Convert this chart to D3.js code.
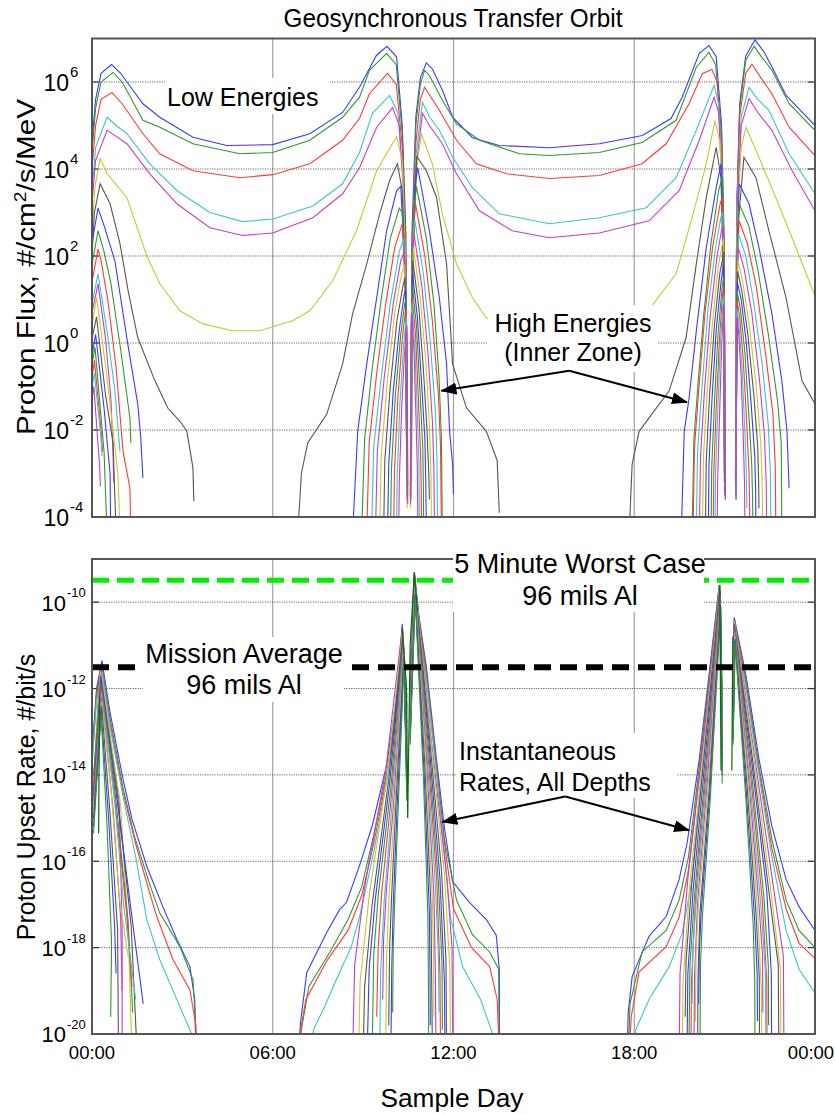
<!DOCTYPE html>
<html><head><meta charset="utf-8">
<script src="https://cdn.jsdelivr.net/npm/d3@7/dist/d3.min.js"></script>
<style>body{margin:0;background:#fff;} text{font-family:"Liberation Sans",Arial,sans-serif;fill:#000;}</style>
</head><body><svg id="c" width="835" height="1115"></svg>
<script>
// ---------------- DATA (hour of day, log10 value) ----------------
const xTickHours = [0, 6, 12, 18, 24];
const xTickLabels = ["00:00", "06:00", "12:00", "18:00", "00:00"];
const fluxTickExps = [6, 4, 2, 0, -2, -4];
const rateTickExps = [-10, -12, -14, -16, -18, -20];
const fluxGridExps = [6, 4, 2, 0, -2];
const rateGridExps = [-10, -12, -14, -16, -18];

const palette = ["#3a3aff", "#2e9a2e", "#ff3a3a", "#3cc6c6", "#c83cc8", "#c8c832", "#555555"];
const fluxLowColors = [0, 1, 2, 3, 4, 5, 6];
const fluxHighColors = [0, 1, 2, 3, 4, 5, 6, 0, 1, 2, 3, 4];
const rateWideColors = [0, 1, 2, 3];
const rateNarrowColors = [4, 5, 6, 0, 1, 2, 3, 4, 5, 6, 0, 1];

// Low energy proton flux channels (full orbit)
const fluxLow = [
 [[0,4.6],[0.12,5.6],[0.3,6.2],[0.65,6.4],[0.95,6.2],[1.16,6.0],[1.69,5.5],[2.25,5.19],[3.35,4.73],[4.47,4.54],[6.0,4.56],[7.23,4.81],[8.32,5.3],[8.88,5.88],[9.44,6.61],[9.79,6.82],[10.11,6.58],[10.3,5.0],[10.42,2.5],[10.46,-3.2],null,
  [10.58,-3.0],[10.62,2.5],[10.75,5.2],[10.9,6.1],[11.1,6.44],[11.3,6.3],[11.64,5.8],[11.97,5.19],[12.63,4.72],[13.52,4.54],[15.18,4.49],[16.84,4.58],[18.27,4.77],[19.22,5.16],[19.59,5.65],[20.16,6.66],[20.48,6.84],[20.72,6.58],[20.9,5.0],[20.98,2.5],[21.0,-3.0],null,
  [21.36,-3.0],[21.4,3.0],[21.5,5.5],[21.7,6.6],[22.01,6.97],[22.3,6.7],[22.57,6.35],[23.04,5.69],[24,5.0]],
 [[0,4.4],[0.12,5.4],[0.3,6.0],[0.7,6.22],[1.0,6.0],[1.69,5.12],[2.25,4.96],[3.35,4.58],[4.91,4.35],[6.0,4.38],[7.23,4.66],[8.32,5.19],[8.88,5.65],[9.21,6.27],[9.78,6.66],[10.1,6.4],[10.3,4.8],[10.42,2.0],[10.46,-3.4],null,
  [10.58,-3.2],[10.62,2.0],[10.75,5.0],[10.9,5.95],[11.04,6.27],[11.2,6.15],[11.63,5.58],[12.1,5.04],[12.86,4.66],[14.19,4.35],[15.18,4.31],[16.84,4.38],[18.26,4.61],[19.39,5.12],[20.06,6.34],[20.48,6.68],[20.7,6.4],[20.9,4.8],[20.98,2.2],[21.0,-3.2],null,
  [21.36,-3.2],[21.4,3.0],[21.5,5.4],[21.7,6.5],[21.98,6.82],[22.2,6.6],[22.57,6.27],[23.14,5.5],[24,4.89]],
 [[0,4.0],[0.12,5.0],[0.3,5.6],[0.66,5.76],[1.0,5.5],[1.69,4.81],[2.25,4.35],[3.35,3.96],[4.91,3.8],[6.0,3.87],[7.23,4.12],[8.32,4.66],[8.88,5.16],[9.21,5.73],[9.81,6.2],[10.1,5.95],[10.3,4.5],[10.42,1.8],[10.46,-3.0],null,
  [10.58,-3.1],[10.62,1.8],[10.75,4.6],[10.9,5.6],[11.04,5.88],[11.53,5.35],[12.1,4.66],[12.76,4.12],[13.76,3.89],[15.18,3.78],[16.84,3.85],[18.26,4.12],[19.06,4.58],[19.82,5.5],[20.26,6.19],[20.58,6.29],[20.75,6.0],[20.9,4.5],[20.98,2.0],[21.0,-3.0],null,
  [21.36,-3.0],[21.4,3.0],[21.5,5.2],[21.7,6.2],[21.91,6.41],[22.2,6.1],[22.57,5.73],[23.14,4.96],[24,4.31]],
 [[0,3.5],[0.12,4.5],[0.5,5.19],[0.8,5.0],[1.16,4.81],[1.92,4.12],[2.82,3.5],[3.91,3.0],[5.0,2.79],[6.0,2.85],[7.33,3.15],[8.32,3.66],[8.88,4.38],[9.31,5.28],[9.88,5.69],[10.15,5.3],[10.32,3.8],[10.42,1.5],[10.46,-3.3],null,
  [10.58,-2.9],[10.62,1.5],[10.75,4.3],[10.97,5.53],[11.2,5.2],[11.53,4.89],[11.97,4.27],[12.63,3.57],[13.52,2.97],[15.18,2.74],[16.84,2.88],[18.4,3.11],[19.39,3.8],[20.06,4.89],[20.65,5.92],[20.8,5.5],[20.92,3.8],[20.98,1.5],[21.0,-3.1],null,
  [21.36,-3.1],[21.4,3.0],[21.55,5.2],[21.81,5.88],[22.1,5.6],[22.47,5.35],[23.14,4.35],[24,3.43]],
 [[0,3.2],[0.12,4.2],[0.5,4.89],[0.8,4.75],[1.16,4.58],[1.92,3.89],[2.82,3.2],[3.91,2.65],[5.0,2.47],[6.0,2.53],[7.33,2.88],[8.32,3.43],[8.88,4.03],[9.45,4.96],[9.98,5.41],[10.2,5.0],[10.34,3.5],[10.42,1.2],[10.46,-3.5],null,
  [10.58,-3.3],[10.62,1.2],[10.75,4.0],[10.97,5.28],[11.2,5.0],[11.63,4.58],[12.1,3.89],[12.86,3.04],[13.95,2.58],[15.18,2.42],[16.84,2.53],[18.49,2.81],[19.49,3.5],[20.16,4.66],[20.65,5.65],[20.8,5.3],[20.92,3.5],[20.98,1.2],[21.0,-3.3],null,
  [21.36,-3.3],[21.4,2.8],[21.55,5.0],[21.81,5.62],[22.1,5.3],[22.57,4.89],[23.24,3.96],[24,3.04]],
 [[0,2.5],[0.1,3.6],[0.27,4.24],[0.5,3.9],[1.16,3.34],[1.82,2.0],[2.25,1.36],[2.92,0.74],[3.68,0.44],[4.67,0.28],[5.57,0.28],[6.66,0.51],[7.23,0.74],[7.99,1.43],[8.78,2.58],[9.45,3.96],[10.11,4.75],[10.3,4.2],[10.4,2.0],[10.45,-3.6],null,
  [10.6,-3.6],[10.65,2.0],[10.8,4.2],[10.94,4.8],[11.3,4.12],[11.63,2.97],[12.1,1.82],[12.63,1.04],[13.09,0.58],[14.0,0.35],[15.5,0.25],[17.0,0.4],[18.56,0.83],[19.39,1.59],[19.92,2.88],[20.39,4.12],[20.68,5.11],[20.85,4.6],[20.95,2.0],[21.02,-3.0],null,
  [21.38,-3.3],[21.4,2.5],[21.55,4.5],[21.71,4.96],[22.14,4.27],[22.7,3.34],[23.24,2.42],[24,1.08]],
 [[0,2.0],[0.08,3.0],[0.27,3.66],[0.6,3.2],[0.93,2.28],[1.2,1.2],[1.52,0.12],[2.09,-0.87],[2.52,-1.5],[2.92,-1.8],[3.15,-2.03],[3.35,-2.87],[3.38,-3.64],null,
  [6.83,-4.4],[6.95,-3.0],[7.16,-2.3],[7.79,-1.64],[8.32,-0.48],[8.65,0.67],[9.12,1.82],[9.55,2.97],[9.88,3.74],[10.14,4.12],[10.3,3.5],[10.4,1.5],[10.45,-3.0],null,
  [10.6,-3.2],[10.65,2.0],[10.78,4.29],[11.1,3.96],[11.44,3.34],[11.77,1.82],[11.97,-0.48],[12.43,-1.49],[13.09,-2.03],[13.45,-2.7],[13.52,-3.9],null,
  [17.83,-4.4],[17.93,-2.79],[18.16,-2.03],[19.16,-1.1],[19.72,0.12],[20.06,1.82],[20.39,3.34],[20.72,4.5],[20.88,3.8],[20.96,1.5],[21.0,-3.0],null,
  [21.38,-3.0],[21.42,2.5],[21.64,4.27],[22.04,3.8],[22.47,2.58],[23.04,1.04],[23.57,-0.87],[24,-1.4]]
];

// High energy (inner zone) proton flux channels
const fluxHigh = [
 [[0,2.3],[0.2,3.1],[0.4,2.7],[0.76,1.89],[1.19,-0.03],[1.52,-1.41],[1.62,-2.19],[1.69,-3.1],null,
  [8.65,-4.4],[8.82,-2.03],[9.12,-0.48],[9.45,1.04],[9.78,2.58],[10.11,3.5],[10.25,3.6],[10.4,1.5],[10.45,-3.0],null,
  [10.58,-3.2],[10.62,1.0],[10.72,3.6],[10.81,4.03],[11.2,2.58],[11.53,1.04],[11.77,-0.48],[11.87,-2.03],[11.97,-2.79],[12.0,-3.48],null,
  [19.56,-4.4],[19.66,-2.03],[19.82,-1.27],[20.06,0.28],[20.39,2.19],[20.72,3.57],[20.88,4.12],[20.96,2.5],[20.99,-3.0],null,
  [21.38,-3.1],[21.42,2.0],[21.48,3.66],[21.81,3.2],[22.14,2.19],[22.57,0.67],[22.9,-0.87],[23.07,-2.03],[23.14,-3.34]],
 [[0,1.8],[0.2,2.58],[0.4,2.1],[0.63,1.36],[0.96,-0.19],[1.26,-1.73],[1.29,-2.3],null,
  [8.95,-4.4],[9.05,-2.2],[9.3,-0.6],[9.6,1.0],[9.9,2.4],[10.2,3.1],[10.3,3.0],[10.41,1.2],[10.45,-3.2],null,
  [10.58,-3.0],[10.62,0.8],[10.7,3.2],[10.77,3.6],[11.1,2.4],[11.35,0.9],[11.52,-0.8],[11.6,-2.2],[11.63,-4.4],null,
  [19.92,-4.4],[19.98,-2.2],[20.12,-0.9],[20.3,0.6],[20.55,2.3],[20.8,3.5],[20.92,3.8],[20.97,2.2],[20.99,-3.2],null,
  [21.38,-3.0],[21.42,1.8],[21.48,3.2],[21.8,2.7],[22.1,1.7],[22.45,0.2],[22.75,-1.3],[22.88,-2.3],[22.9,-4.4]],
 [[0,1.4],[0.2,2.16],[0.3,1.9],[0.53,0.97],[0.8,-0.57],[1.03,-2.49],[1.26,-3.34],[1.29,-4.4],null,
  [9.12,-4.4],[9.2,-2.3],[9.45,-0.7],[9.75,0.9],[10.05,2.2],[10.3,2.74],[10.41,1.0],[10.45,-3.4],null,
  [10.58,-3.4],[10.62,0.6],[10.7,2.9],[10.74,3.2],[11.05,2.0],[11.3,0.5],[11.5,-1.2],[11.57,-2.4],[11.6,-4.4],null,
  [19.95,-4.4],[20.0,-2.4],[20.15,-1.0],[20.35,0.7],[20.6,2.2],[20.85,3.2],[20.92,3.35],[20.97,2.0],[21.0,-3.3],null,
  [21.37,-3.3],[21.41,1.6],[21.48,2.81],[21.75,2.3],[22.05,1.3],[22.35,-0.2],[22.6,-1.6],[22.68,-2.8],[22.7,-4.4]],
 [[0,0.9],[0.2,1.59],[0.53,0.12],[0.76,-1.1],[0.93,-2.5],null,
  [9.28,-4.4],[9.35,-2.4],[9.6,-0.8],[9.9,0.9],[10.2,2.1],[10.35,2.4],[10.42,0.8],[10.46,-3.1],null,
  [10.58,-3.1],[10.62,0.5],[10.68,2.6],[10.71,2.85],[11.0,1.6],[11.22,0.1],[11.4,-1.6],[11.45,-2.6],[11.47,-4.4],null,
  [20.06,-4.4],[20.1,-2.5],[20.25,-1.0],[20.45,0.8],[20.7,2.2],[20.88,2.9],[20.94,3.0],[20.97,1.8],[21.0,-3.0],null,
  [21.37,-3.0],[21.41,1.4],[21.46,2.5],[21.7,2.0],[21.95,1.0],[22.25,-0.5],[22.45,-1.9],[22.52,-3.0],[22.54,-4.4]],
 [[0,0.7],[0.2,1.36],[0.45,0.1],[0.63,-1.3],[0.7,-2.6],[0.72,-3.2],null,
  [9.41,-4.4],[9.47,-2.5],[9.7,-0.8],[10.0,0.9],[10.25,1.9],[10.37,2.1],[10.43,0.6],[10.46,-3.6],null,
  [10.58,-3.6],[10.62,0.4],[10.67,2.3],[10.69,2.5],[10.95,1.3],[11.15,-0.2],[11.3,-1.8],[11.35,-2.9],[11.37,-4.4],null,
  [20.16,-4.4],[20.2,-2.6],[20.33,-1.1],[20.52,0.6],[20.75,2.0],[20.9,2.6],[20.95,2.7],[20.98,1.5],[21.0,-3.5],null,
  [21.37,-3.5],[21.41,1.2],[21.45,2.2],[21.65,1.7],[21.9,0.7],[22.15,-0.8],[22.32,-2.1],[22.38,-3.2],[22.4,-4.4]],
 [[0,0.4],[0.15,1.05],[0.5,-0.8],[0.86,-3.0],[0.93,-4.4],null,
  [9.55,-4.4],[9.6,-2.6],[9.8,-0.9],[10.05,0.7],[10.28,1.6],[10.38,1.8],[10.43,0.4],[10.46,-3.8],null,
  [10.58,-3.8],[10.62,0.3],[10.66,2.0],[10.67,2.2],[10.9,1.0],[11.08,-0.4],[11.2,-1.9],[11.25,-3.0],[11.27,-4.4],null,
  [20.26,-4.4],[20.3,-2.6],[20.42,-1.1],[20.6,0.5],[20.8,1.8],[20.93,2.3],[20.96,2.4],[20.98,1.2],[21.02,-3.0],null,
  [21.38,-3.3],[21.41,1.0],[21.44,1.9],[21.6,1.4],[21.82,0.4],[22.05,-1.0],[22.2,-2.3],[22.25,-3.3],[22.27,-4.4]],
 [[0,0.1],[0.15,0.6],[0.45,-1.2],[0.7,-2.3],[0.8,-4.4],null,
  [9.68,-4.4],[9.72,-2.7],[9.9,-1.0],[10.12,0.5],[10.32,1.3],[10.39,1.5],[10.44,0.2],[10.47,-3.5],null,
  [10.57,-3.5],[10.61,0.2],[10.64,1.7],[10.65,1.9],[10.85,0.8],[11.0,-0.6],[11.12,-2.0],[11.18,-3.0],[11.2,-3.6],null,
  [20.36,-4.4],[20.39,-2.7],[20.5,-1.2],[20.66,0.4],[20.84,1.6],[20.95,2.0],[20.97,2.1],[20.99,1.0],[21.02,-3.2],null,
  [21.38,-3.2],[21.41,0.9],[21.43,1.65],[21.57,1.2],[21.77,0.2],[21.97,-1.2],[22.1,-2.4],[22.13,-3.2],[22.14,-3.8]],
 [[0,-0.3],[0.12,0.2],[0.4,-1.5],[0.6,-3.0],[0.62,-4.4],null,
  [9.81,-4.4],[9.85,-2.8],[10.0,-1.1],[10.2,0.3],[10.36,1.1],[10.41,1.2],[10.45,0.0],[10.47,-3.0],null,
  [10.57,-3.0],[10.6,0.1],[10.63,1.4],[10.64,1.6],[10.8,0.6],[10.93,-0.8],[11.05,-2.2],[11.08,-3.2],[11.1,-4.4],null,
  [20.46,-4.4],[20.48,-2.8],[20.58,-1.3],[20.72,0.3],[20.88,1.4],[20.96,1.8],[20.99,0.8],[21.02,-3.4],null,
  [21.38,-3.4],[21.41,0.7],[21.42,1.4],[21.55,1.0],[21.72,0.0],[21.88,-1.4],[22.0,-2.6],[22.03,-3.4],[22.04,-4.4]],
 [[0,-0.5],[0.1,-0.1],[0.4,-2.5],[0.5,-4.4],null,
  [9.91,-4.4],[9.94,-2.9],[10.07,-1.2],[10.25,0.2],[10.38,0.9],[10.42,1.0],[10.45,-0.2],[10.47,-3.6],null,
  [10.57,-3.6],[10.6,0.0],[10.62,1.2],[10.63,1.35],[10.77,0.4],[10.88,-1.0],[10.98,-2.4],[11.0,-3.3],[11.01,-4.4],null,
  [20.55,-4.4],[20.57,-2.9],[20.66,-1.4],[20.78,0.2],[20.92,1.3],[20.97,1.5],[20.99,0.6],[21.02,-3.6],null,
  [21.38,-3.6],[21.4,0.6],[21.41,1.2],[21.52,0.8],[21.67,-0.2],[21.8,-1.6],[21.9,-2.8],[21.93,-3.6],[21.94,-4.4]],
 [[0,-0.8],[0.08,-0.4],[0.3,-2.0],[0.35,-2.5],null,
  [10.01,-4.4],[10.04,-3.0],[10.15,-1.3],[10.3,0.1],[10.4,0.7],[10.43,0.8],[10.46,-0.3],[10.48,-3.3],null,
  [10.57,-3.3],[10.59,0.0],[10.61,0.95],[10.62,1.1],[10.74,0.2],[10.83,-1.2],[10.91,-2.6],[10.93,-3.4],[10.94,-4.4],null,
  [20.62,-4.4],[20.64,-3.0],[20.72,-1.5],[20.83,0.1],[20.93,1.1],[20.97,1.3],[21.0,0.4],[21.03,-3.2],null,
  [21.38,-3.2],[21.4,0.5],[21.41,1.0],[21.5,0.6],[21.62,-0.4],[21.73,-1.8],[21.81,-3.0],[21.83,-3.8],[21.84,-4.4]],
 [[0,-1.0],[0.08,-0.7],[0.3,-2.2],[0.33,-2.6],null,
  [10.11,-4.4],[10.13,-3.1],[10.22,-1.4],[10.34,-0.1],[10.42,0.5],[10.44,0.6],[10.46,-0.4],[10.48,-3.5],null,
  [10.57,-3.5],[10.59,-0.1],[10.61,0.8],[10.62,0.9],[10.71,0.0],[10.79,-1.4],[10.85,-2.7],[10.86,-3.5],[10.87,-4.4],null,
  [20.68,-4.4],[20.7,-3.0],[20.77,-1.6],[20.86,0.0],[20.94,0.9],[20.98,1.1],[21.0,0.2],[21.03,-3.4],null,
  [21.38,-3.4],[21.4,0.3],[21.41,0.8],[21.48,0.4],[21.58,-0.6],[21.67,-2.0],[21.72,-3.0],[21.74,-3.8]],
 [[0,-1.3],[0.06,-1.0],[0.25,-2.8],[0.28,-3.3],null,
  [10.18,-4.4],[10.2,-3.2],[10.28,-1.5],[10.37,-0.3],[10.43,0.3],[10.45,0.4],[10.47,-0.6],[10.48,-3.7],null,
  [10.57,-3.7],[10.59,-0.2],[10.6,0.6],[10.61,0.7],[10.69,-0.2],[10.75,-1.6],[10.8,-2.9],[10.81,-3.6],[10.82,-4.4],null,
  [20.75,-4.4],[20.77,-3.1],[20.83,-1.7],[20.9,-0.1],[20.96,0.8],[20.98,0.9],[21.0,0.1],[21.03,-3.6],null,
  [21.38,-3.6],[21.39,0.2],[21.41,0.6],[21.47,0.2],[21.55,-0.8],[21.62,-2.2],[21.66,-3.2],[21.67,-4.0]]
];

// Upset rate, the four broad curves
const rateWide = [
 [[0.0,-13.5],[0.15,-12.0],[0.33,-11.35],[0.6,-12.56],[1.03,-14.1],[1.33,-15.03],[1.82,-16.12],[2.35,-17.05],[2.82,-17.81],[3.25,-18.44],[3.41,-19.2],[3.45,-20.5],null,
  [6.86,-20.5],[6.92,-19.74],[7.13,-18.58],[7.79,-17.65],[8.22,-17.12],[8.45,-16.95],[8.88,-16.1],[9.31,-15.16],[9.78,-13.77],[10.11,-12.21],[10.3,-10.5],[10.45,-12.2],null,
  [10.56,-11.8],[10.7,-9.3],[10.85,-10.3],[11.1,-11.51],[11.44,-13.67],[11.7,-15.23],[11.97,-16.47],[12.53,-16.95],[13.09,-17.35],[13.42,-17.72],[13.52,-18.5],[13.53,-20.5],null,
  [17.76,-20.5],[17.8,-19.5],[17.93,-18.67],[18.49,-17.74],[19.06,-17.28],[19.49,-16.42],[19.76,-15.56],[20.16,-13.63],[20.48,-11.7],[20.82,-9.6],[20.9,-11.6],null,
  [21.28,-12.0],[21.32,-10.35],[21.71,-11.7],[22.14,-13.63],[22.57,-15.19],[23.04,-16.42],[23.47,-17.05],[24,-17.6]],
 [[0.0,-13.6],[0.15,-12.1],[0.33,-11.45],[0.6,-12.7],[1.03,-14.3],[1.4,-15.4],[1.9,-16.5],[2.25,-17.2],[2.92,-17.98],[3.35,-18.74],[3.43,-19.6],[3.45,-20.5],null,
  [6.9,-20.5],[6.95,-19.9],[7.2,-18.9],[7.9,-18.1],[8.5,-17.35],[8.95,-16.6],[9.35,-15.4],[9.8,-13.9],[10.12,-12.3],[10.3,-10.55],[10.45,-12.4],null,
  [10.56,-11.9],[10.7,-9.35],[10.85,-10.4],[11.1,-11.6],[11.44,-13.8],[11.7,-15.5],[12.1,-16.9],[12.63,-17.7],[13.2,-18.1],[13.5,-18.5],[13.52,-20.5],null,
  [17.8,-20.5],[17.86,-19.3],[18.26,-18.1],[19.06,-17.6],[19.49,-16.9],[19.8,-15.9],[20.16,-13.8],[20.48,-11.8],[20.82,-9.65],[20.9,-11.8],null,
  [21.28,-12.1],[21.32,-10.4],[21.71,-11.8],[22.14,-13.8],[22.57,-15.5],[23.04,-16.9],[23.47,-17.6],[24,-18.0]],
 [[0.0,-13.7],[0.15,-12.2],[0.33,-11.5],[0.6,-12.8],[1.03,-14.4],[1.45,-15.6],[1.9,-16.7],[2.15,-17.28],[2.69,-18.28],[3.25,-18.98],[3.45,-19.8],[3.5,-20.5],null,
  [6.85,-20.5],[6.9,-20.0],[7.1,-19.2],[7.8,-18.3],[8.5,-17.6],[8.95,-16.8],[9.35,-15.6],[9.8,-14.0],[10.12,-12.4],[10.3,-10.6],[10.45,-12.5],null,
  [10.56,-12.0],[10.7,-9.4],[10.85,-10.5],[11.1,-11.7],[11.44,-13.9],[11.7,-15.6],[12.0,-17.1],[12.6,-18.0],[13.2,-18.44],[13.45,-19.2],[13.52,-20.5],null,
  [17.83,-20.5],[17.9,-19.6],[18.16,-18.56],[19.06,-17.98],[19.49,-17.3],[19.8,-16.2],[20.16,-14.0],[20.48,-12.0],[20.82,-9.7],[20.9,-12.0],null,
  [21.28,-12.2],[21.32,-10.45],[21.71,-11.9],[22.14,-13.9],[22.57,-15.7],[23.04,-17.1],[23.47,-17.9],[24,-18.25]],
 [[0.0,-13.8],[0.15,-12.3],[0.33,-11.6],[0.6,-12.9],[1.03,-14.5],[1.45,-15.9],[1.82,-17.35],[2.25,-18.28],[2.82,-19.21],[3.31,-20.0],[3.35,-20.5],null,
  [7.3,-20.5],[7.35,-19.9],[7.7,-19.4],[8.2,-18.6],[8.6,-18.0],[8.88,-17.3],[9.35,-15.8],[9.8,-14.1],[10.12,-12.5],[10.3,-10.7],[10.45,-12.6],null,
  [10.56,-12.1],[10.7,-9.45],[10.85,-10.6],[11.1,-11.8],[11.44,-14.0],[11.7,-15.8],[11.9,-17.3],[12.3,-18.44],[12.9,-19.2],[13.3,-20.0],[13.35,-20.5],null,
  [18.0,-20.5],[18.05,-19.9],[18.49,-19.2],[19.16,-18.44],[19.59,-17.67],[19.9,-16.5],[20.2,-14.2],[20.48,-12.1],[20.82,-9.75],[20.9,-12.2],null,
  [21.28,-12.3],[21.32,-10.5],[21.71,-12.0],[22.14,-14.0],[22.57,-15.9],[23.04,-17.6],[23.47,-18.5],[24,-19.05]]
];

// Upset rate, narrow curves (greater shielding depths)
const rateNarrow = [
 [[0.05,-14.2],[0.27,-11.5],[0.9,-14.6],[1.0,-17.5],[1.0,-20.5],null,[8.65,-20.5],[8.72,-18.4],[9.05,-16.6],[9.75,-13.9],[10.3,-10.6],[10.45,-12.4],null,[10.56,-12.0],[10.7,-9.35],[11.25,-13.1],[11.78,-16.4],[11.95,-18.0],[11.98,-20.5],null,[19.49,-20.5],[19.52,-18.6],[19.78,-16.4],[20.25,-13.5],[20.84,-9.6],[20.92,-12.0],null,[21.28,-12.2],[21.32,-10.4],[21.98,-13.5],[22.6,-16.5],[22.95,-18.2],[22.97,-20.5]],
 [[0.05,-14.3],[0.28,-11.6],[0.95,-14.7],[1.2,-17.6],[1.33,-20.5],null,[8.85,-20.5],[8.9,-18.8],[9.2,-16.8],[9.8,-14.0],[10.31,-10.7],[10.45,-12.6],null,[10.56,-12.2],[10.7,-9.4],[11.22,-13.0],[11.7,-16.3],[11.88,-18.5],[11.9,-20.5],null,[19.59,-20.5],[19.62,-18.8],[19.85,-16.5],[20.28,-13.6],[20.84,-9.65],[20.92,-12.2],null,[21.28,-12.3],[21.32,-10.45],[21.95,-13.5],[22.5,-16.5],[22.85,-18.5],[22.87,-20.5]],
 [[0.05,-14.4],[0.29,-11.7],[0.85,-14.5],[1.3,-17.5],[1.5,-20.5],null,[9.0,-20.5],[9.05,-18.9],[9.3,-17.0],[9.85,-14.1],[10.31,-10.8],[10.45,-12.8],null,[10.56,-12.4],[10.7,-9.45],[11.2,-13.1],[11.6,-16.2],[11.75,-18.3],[11.77,-20.5],null,[19.69,-19.6],[19.72,-18.3],[19.9,-16.6],[20.3,-13.7],[20.84,-9.7],[20.92,-12.4],null,[21.28,-12.4],[21.32,-10.5],[21.92,-13.6],[22.45,-16.6],[22.78,-18.4],[22.8,-20.5]],
 [[0.05,-14.5],[0.3,-11.8],[0.8,-14.4],[1.4,-17.7],[1.7,-19.3],null,[9.15,-20.0],[9.2,-18.5],[9.4,-16.9],[9.88,-14.2],[10.32,-10.9],[10.45,-13.0],null,[10.56,-12.5],[10.7,-9.5],[11.18,-13.2],[11.55,-16.4],[11.7,-18.8],[11.72,-20.5],null,[19.75,-20.5],[19.78,-18.6],[19.95,-16.7],[20.33,-13.8],[20.85,-9.75],[20.92,-12.6],null,[21.28,-12.5],[21.32,-10.55],[21.9,-13.7],[22.4,-16.7],[22.55,-18.6],[22.56,-20.5]],
 [[0.05,-14.0],[0.3,-11.9],[0.75,-14.3],[1.2,-17.4],[1.35,-19.5],null,[9.3,-20.5],[9.35,-18.2],[9.5,-16.8],[9.92,-14.3],[10.32,-10.95],[10.45,-13.2],null,[10.56,-12.6],[10.71,-9.55],[11.16,-13.3],[11.5,-16.5],[11.62,-18.4],[11.63,-19.9],null,[19.82,-20.0],[19.85,-18.4],[20.0,-16.8],[20.36,-13.9],[20.85,-9.8],[20.92,-12.8],null,[21.28,-12.6],[21.33,-10.6],[21.87,-13.8],[22.3,-16.8],[22.45,-18.4],[22.46,-19.8]],
 [[0.05,-14.6],[0.31,-12.0],[0.7,-14.2],[1.15,-17.2],[1.33,-18.9],null,[9.45,-19.6],[9.5,-18.0],[9.62,-16.7],[9.95,-14.4],[10.33,-11.0],[10.45,-13.4],null,[10.56,-12.7],[10.71,-9.6],[11.14,-13.4],[11.45,-16.5],[11.55,-18.6],[11.57,-20.5],null,[19.88,-20.5],[19.9,-18.8],[20.03,-16.9],[20.38,-14.0],[20.85,-9.85],[20.92,-13.0],null,[21.28,-12.7],[21.33,-10.65],[21.85,-13.9],[22.25,-16.9],[22.4,-18.8],[22.41,-20.5]],
 [[0.06,-14.7],[0.32,-12.1],[0.75,-14.6],[1.05,-17.0],[1.45,-19.2],null,[9.55,-20.5],[9.58,-18.6],[9.7,-16.9],[9.98,-14.5],[10.33,-11.1],[10.45,-13.6],null,[10.56,-12.8],[10.71,-9.65],[11.12,-13.5],[11.4,-16.6],[11.5,-18.2],[11.52,-19.5],null,[19.92,-19.3],[19.95,-18.0],[20.06,-16.9],[20.4,-14.1],[20.86,-9.9],[20.92,-13.2],null,[21.28,-12.8],[21.33,-10.7],[21.82,-14.0],[22.2,-17.0],[22.35,-18.5],[22.37,-20.5]],
 [[0.06,-14.8],[0.33,-12.2],[0.7,-14.8],[0.95,-17.3],[1.0,-19.0],null,[9.65,-19.2],[9.68,-17.8],[9.78,-16.6],[10.02,-14.6],[10.34,-11.15],[10.45,-13.8],null,[10.56,-12.9],[10.72,-9.7],[11.1,-13.6],[11.35,-16.8],[11.4,-18.7],[11.42,-20.5],null,[19.98,-20.5],[20.0,-18.7],[20.1,-17.0],[20.42,-14.2],[20.86,-9.95],[20.92,-13.4],null,[21.28,-12.9],[21.34,-10.75],[21.8,-14.1],[22.15,-17.1],[22.26,-18.2],[22.27,-19.5]],
 [[0.06,-14.9],[0.33,-12.3],[0.65,-14.5],[0.9,-16.8],[1.2,-18.2],null,[9.75,-20.5],[9.78,-18.2],[9.86,-16.8],[10.05,-14.7],[10.34,-11.2],[10.45,-14.0],null,[10.56,-13.0],[10.72,-9.75],[11.08,-13.7],[11.3,-16.9],[11.34,-18.3],[11.35,-19.6],null,[20.03,-19.7],[20.05,-18.2],[20.13,-17.0],[20.45,-14.3],[20.86,-10.0],[20.92,-13.6],null,[21.28,-13.0],[21.34,-10.8],[21.78,-14.2],[22.1,-17.2],[22.22,-19.0],[22.24,-20.5]],
 [[0.05,-15.0],[0.32,-12.4],[0.6,-14.9],[0.85,-17.6],[0.88,-20.5],null,[9.85,-19.8],[9.88,-18.0],[9.94,-16.9],[10.08,-14.8],[10.35,-11.25],[10.45,-14.2],null,[10.56,-13.1],[10.72,-9.8],[11.05,-13.8],[11.25,-17.0],[11.28,-19.0],[11.3,-20.5],null,[20.1,-20.5],[20.12,-18.6],[20.18,-17.2],[20.48,-14.4],[20.86,-10.05],[20.92,-13.8],null,[21.28,-13.1],[21.34,-10.85],[21.75,-14.3],[22.05,-17.3],[22.15,-18.7],[22.16,-20.5]],
 [[0.05,-15.2],[0.3,-12.5],[0.55,-15.0],[0.75,-17.5],[0.8,-18.6],null,[9.92,-20.5],[9.95,-18.5],[10.0,-17.0],[10.12,-14.9],[10.35,-11.3],[10.45,-14.4],null,[10.56,-13.2],[10.73,-9.85],[11.02,-13.9],[11.2,-17.2],[11.22,-18.6],[11.23,-19.8],null,[20.14,-19.3],[20.16,-18.1],[20.22,-17.2],[20.5,-14.5],[20.87,-10.1],[20.92,-14.0],null,[21.28,-13.2],[21.35,-10.9],[21.72,-14.4],[22.0,-17.4],[22.08,-18.6],[22.09,-19.7]],
 [[0.05,-15.35],[0.3,-12.6],[0.5,-15.2],[0.65,-17.9],[0.62,-19.6],null,[9.98,-19.5],[10.0,-18.0],[10.05,-16.9],[10.15,-15.0],[10.36,-11.35],[10.45,-14.6],null,[10.56,-13.3],[10.73,-9.9],[11.0,-14.0],[11.15,-17.3],[11.17,-19.0],[11.18,-20.5],null,[20.18,-20.5],[20.2,-18.4],[20.26,-17.3],[20.52,-14.6],[20.87,-10.15],[20.92,-14.2],null,[21.28,-13.3],[21.35,-10.95],[21.7,-14.5],[21.95,-17.5],[22.0,-18.8],[22.01,-20.5]]
];

// dark green perigee spikes
const rateSpikes = [
 [[0.22,-15.35],[0.25,-12.2]],
 [[10.3,-10.6],[10.44,-12.0],[10.48,-15.0],[10.56,-11.0],[10.7,-9.3],[10.8,-10.2]],
 [[20.84,-9.6],[20.88,-13.9],null,[21.24,-13.9],[21.27,-10.8]]
];

// Reference levels (#/bit/s): 5 minute worst case, mission average
const refNames = ["5 Minute Worst Case", "Mission Average"];
const refValues = [3.2e-10, 3.1e-12];
const refColors = ["#00ee00", "#000000"];

// ---------------- DRAW ----------------
const svg = d3.select("#c");
svg.append("rect").attr("width", 835).attr("height", 1115).attr("fill", "#fff");

const x = d3.scaleLinear().domain([0, 24]).range([92, 815]);
const yTop = d3.scaleLog().domain([1e-4, 1e7]).range([517, 38.5]);
const yBot = d3.scaleLog().domain([1e-20, 1e-9]).range([1034, 559]);

const defs = svg.append("defs");
defs.append("clipPath").attr("id", "clipTop").append("rect")
  .attr("x", x(0)).attr("y", yTop(1e7)).attr("width", x(24) - x(0)).attr("height", yTop(1e-4) - yTop(1e7));
defs.append("clipPath").attr("id", "clipBot").append("rect")
  .attr("x", x(0)).attr("y", yBot(1e-9)).attr("width", x(24) - x(0)).attr("height", yBot(1e-20) - yBot(1e-9));
defs.append("marker").attr("id", "arr").attr("viewBox", "0 -6 16 12")
  .attr("refX", 15).attr("refY", 0).attr("markerWidth", 16).attr("markerHeight", 12)
  .attr("markerUnits", "userSpaceOnUse").attr("orient", "auto")
  .append("path").attr("d", "M0,-6L16,0L0,6Z").attr("fill", "#000");

function panel(yScale, gridExps, clipId) {
  const g = svg.append("g");
  g.selectAll(".vg").data(xTickHours.slice(1, 4)).join("line")
    .attr("x1", d => x(d)).attr("x2", d => x(d))
    .attr("y1", yScale.range()[1]).attr("y2", yScale.range()[0])
    .attr("stroke", "#a0a0a0").attr("stroke-width", 1.2);
  g.selectAll(".hg").data(gridExps).join("line")
    .attr("x1", x(0)).attr("x2", x(24))
    .attr("y1", d => yScale(Math.pow(10, d))).attr("y2", d => yScale(Math.pow(10, d)))
    .attr("stroke", "#666").attr("stroke-width", 1).attr("stroke-dasharray", "1.2,1.2");
  g.selectAll(".tl").data(gridExps).join("line")
    .attr("x1", x(0)).attr("x2", x(0) + 7)
    .attr("y1", d => yScale(Math.pow(10, d))).attr("y2", d => yScale(Math.pow(10, d)))
    .attr("stroke", "#333").attr("stroke-width", 1.2);
  g.selectAll(".tr").data(gridExps).join("line")
    .attr("x1", x(24) - 7).attr("x2", x(24))
    .attr("y1", d => yScale(Math.pow(10, d))).attr("y2", d => yScale(Math.pow(10, d)))
    .attr("stroke", "#333").attr("stroke-width", 1.2);
  return svg.append("g").attr("clip-path", "url(#" + clipId + ")");
}

const gTop = panel(yTop, fluxGridExps, "clipTop");
const lineTop = d3.line().defined(d => d !== null).x(d => x(d[0])).y(d => yTop(Math.pow(10, d[1])));
gTop.selectAll(".low").data(fluxLow).join("path")
  .attr("d", lineTop).attr("fill", "none").attr("stroke-width", 1.1)
  .attr("stroke", (d, i) => palette[fluxLowColors[i]]);
gTop.selectAll(".high").data(fluxHigh).join("path")
  .attr("d", lineTop).attr("fill", "none").attr("stroke-width", 1.1)
  .attr("stroke", (d, i) => palette[fluxHighColors[i]]);

const gBot = panel(yBot, rateGridExps, "clipBot");
const lineBot = d3.line().defined(d => d !== null).x(d => x(d[0])).y(d => yBot(Math.pow(10, d[1])));
gBot.selectAll(".wide").data(rateWide).join("path")
  .attr("d", lineBot).attr("fill", "none").attr("stroke-width", 1.1)
  .attr("stroke", (d, i) => palette[rateWideColors[i]]);
gBot.selectAll(".narrow").data(rateNarrow).join("path")
  .attr("d", lineBot).attr("fill", "none").attr("stroke-width", 1.1)
  .attr("stroke", (d, i) => palette[rateNarrowColors[i]]);
gBot.selectAll(".spk").data(rateSpikes).join("path")
  .attr("d", lineBot).attr("fill", "none").attr("stroke-width", 1.2).attr("stroke", "#0a6a0a");

gBot.selectAll(".ref").data(refValues).join("line")
  .attr("x1", x(0)).attr("x2", x(24))
  .attr("y1", d => yBot(d)).attr("y2", d => yBot(d))
  .attr("stroke", (d, i) => refColors[i]).attr("stroke-width", (d, i) => i === 0 ? 5 : 6)
  .attr("stroke-dasharray", (d, i) => i === 0 ? "17,8" : "17,9");

[yTop, yBot].forEach(ys => {
  svg.append("rect").attr("x", x(0)).attr("y", ys.range()[1])
    .attr("width", x(24) - x(0)).attr("height", ys.range()[0] - ys.range()[1])
    .attr("fill", "none").attr("stroke", "#555").attr("stroke-width", 2);
});

function expLabels(yScale, exps, xr, fs, sfs) {
  svg.append("g").selectAll("text").data(exps).join("text")
    .attr("x", xr).attr("text-anchor", "end").attr("font-size", fs)
    .attr("y", d => yScale(Math.pow(10, d)) + fs * 0.38).text("10");
  svg.append("g").selectAll("text").data(exps).join("text")
    .attr("x", xr + 1).attr("y", d => yScale(Math.pow(10, d)) - fs * 0.22)
    .attr("font-size", sfs).text(d => String(d));
}
expLabels(yTop, fluxTickExps, 69, 23, 15);
expLabels(yBot, rateTickExps, 66, 22, 13);

svg.append("g").selectAll("text").data(xTickHours).join("text")
  .attr("x", (d, i) => i === xTickHours.length - 1 ? x(d) - 4 : x(d)).attr("y", 1059).attr("text-anchor", "middle")
  .attr("font-size", 18.5).text((d, i) => xTickLabels[i]);

svg.append("text").attr("x", 453).attr("y", 27).attr("text-anchor", "middle")
  .attr("font-size", 25).attr("textLength", 339).attr("lengthAdjust", "spacingAndGlyphs")
  .text("Geosynchronous Transfer Orbit");
svg.append("text").attr("x", 452).attr("y", 1107).attr("text-anchor", "middle")
  .attr("font-size", 25).attr("textLength", 143).attr("lengthAdjust", "spacingAndGlyphs")
  .text("Sample Day");
const yl1 = svg.append("text").attr("transform", "translate(35,267) rotate(-90)")
  .attr("text-anchor", "middle").attr("font-size", 26)
  .attr("textLength", 336).attr("lengthAdjust", "spacingAndGlyphs");
yl1.append("tspan").text("Proton Flux, #/cm");
yl1.append("tspan").attr("font-size", 17).attr("dy", -9).text("2");
yl1.append("tspan").attr("dy", 9).text("/s/MeV");
svg.append("text").attr("transform", "translate(35,797) rotate(-90)")
  .attr("text-anchor", "middle").attr("font-size", 25).text("Proton Upset Rate, #/bit/s");

const boxes = [[165, 78, 165, 36], [488, 305, 170, 67], [453, 548, 251, 64], [143, 637, 200, 65], [456, 733, 221, 65]];
svg.append("g").selectAll("rect").data(boxes).join("rect")
  .attr("x", d => d[0]).attr("y", d => d[1]).attr("width", d => d[2]).attr("height", d => d[3]).attr("fill", "#fff");

const notes = [
  ["Low Energies", 167, 106, "start", 25],
  ["High Energies", 573, 332, "middle", 25],
  ["(Inner Zone)", 573, 361, "middle", 25],
  [refNames[0], 580, 573, "middle", 27],
  ["96 mils Al", 580, 605, "middle", 27],
  [refNames[1], 244, 663, "middle", 27],
  ["96 mils Al", 244, 694, "middle", 27],
  ["Instantaneous", 459, 760, "start", 25],
  ["Rates, All Depths", 459, 791, "start", 25]
];
svg.append("g").selectAll("text").data(notes).join("text")
  .attr("x", d => d[1]).attr("y", d => d[2]).attr("text-anchor", d => d[3])
  .attr("font-size", d => d[4]).text(d => d[0]);

const topArrows = [[[15.84, -0.64], [11.6, -1.1]], [[15.84, -0.64], [19.75, -1.36]]];
const botArrows = [[[15.71, -14.5], [11.63, -15.09]], [[15.71, -14.5], [19.82, -15.28]]];
svg.append("g").selectAll("line").data(topArrows).join("line")
  .attr("x1", d => x(d[0][0])).attr("y1", d => yTop(Math.pow(10, d[0][1])))
  .attr("x2", d => x(d[1][0])).attr("y2", d => yTop(Math.pow(10, d[1][1])))
  .attr("stroke", "#000").attr("stroke-width", 2).attr("marker-end", "url(#arr)");
svg.append("g").selectAll("line").data(botArrows).join("line")
  .attr("x1", d => x(d[0][0])).attr("y1", d => yBot(Math.pow(10, d[0][1])))
  .attr("x2", d => x(d[1][0])).attr("y2", d => yBot(Math.pow(10, d[1][1])))
  .attr("stroke", "#000").attr("stroke-width", 2).attr("marker-end", "url(#arr)");
</script></body></html>
